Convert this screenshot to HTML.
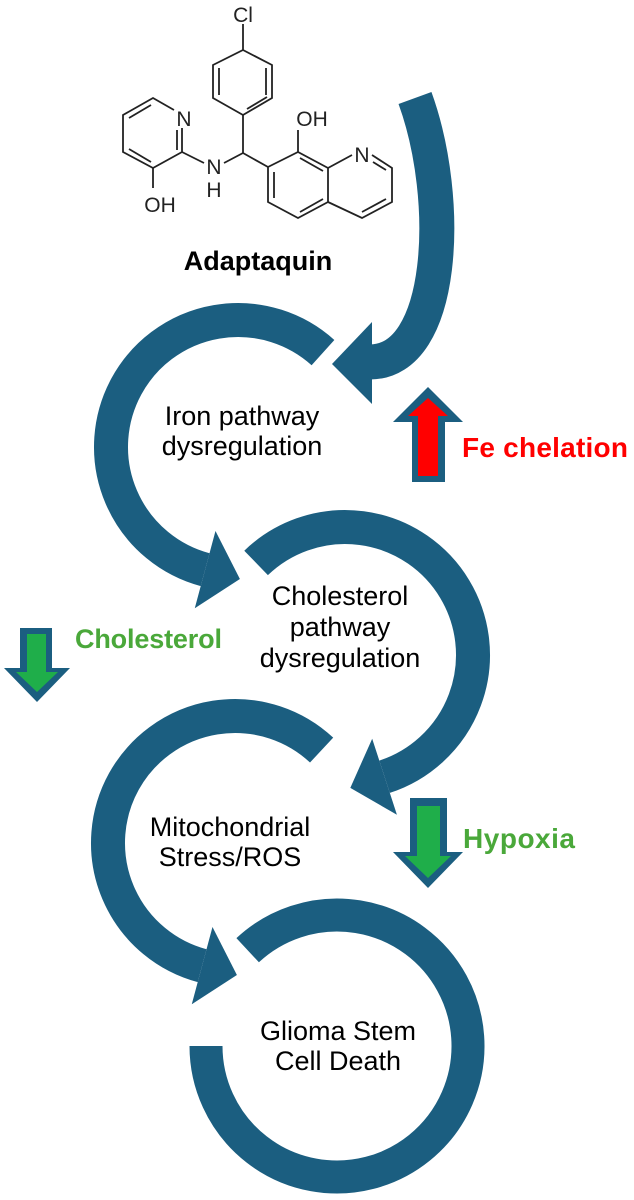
<!DOCTYPE html>
<html><head><meta charset="utf-8"><style>
html,body{margin:0;padding:0;background:#fff;}
svg{display:block;}
text{font-family:"Liberation Sans",Arial,sans-serif;}
</style></head><body>
<svg id="s" width="634" height="1200" viewBox="0 0 634 1200" xmlns="http://www.w3.org/2000/svg">
<g id="arcs"></g>
<!-- top arc -->
<path d="M415,98 C452,200 445,362 370,362" fill="none" stroke="#1b5e80" stroke-width="35"/>
<polygon points="332,364 372,322 372,404" fill="#1b5e80"/>
<!-- Fe up arrow -->
<polygon points="428,387 463,422 445,422 445,482 412,482 412,422 393,422" fill="#1b5e80"/>
<polygon points="428,398 448,416 438,416 438,476 418,476 418,416 408,416" fill="#ff0000"/>
<text x="462" y="457" font-size="28" font-weight="bold" fill="#ff0000" textLength="166">Fe chelation</text>
<!-- cholesterol down arrow -->
<polygon points="37,702 70,668 52,668 52,628 20,628 20,668 4,668" fill="#1b5e80"/>
<polygon points="37,692 58,672 46,672 46,634 27,634 27,672 16,672" fill="#1fae4a"/>
<text x="75" y="648" font-size="27" font-weight="bold" fill="#4aa83a" textLength="147">Cholesterol</text>
<!-- hypoxia down arrow -->
<polygon points="428,888 463,852 447,852 447,798 410,798 410,852 393,852" fill="#1b5e80"/>
<polygon points="428,878 451,856 440,856 440,806 417,806 417,856 405,856" fill="#1fae4a"/>
<text x="463" y="848" font-size="28" font-weight="bold" fill="#4aa83a" textLength="112">Hypoxia</text>
<!-- labels -->
<g font-size="27" fill="#000" text-anchor="middle">
<text x="242" y="425">Iron pathway</text>
<text x="242" y="455">dysregulation</text>
<text x="340" y="605">Cholesterol</text>
<text x="340" y="636">pathway</text>
<text x="340" y="667">dysregulation</text>
<text x="230" y="836">Mitochondrial</text>
<text x="230" y="866">Stress/ROS</text>
<text x="338" y="1040">Glioma Stem</text>
<text x="338" y="1070">Cell Death</text>
<text x="258" y="270" font-weight="bold" font-size="27">Adaptaquin</text>
</g>
<!-- molecule -->
<g stroke="#222" stroke-width="1.8" fill="none">
<line x1="243" y1="24" x2="243" y2="50"/>
<polygon points="243,50 272,65 272,98 243,115 213,98 213,65"/>
<line x1="219" y1="68" x2="219" y2="95"/><line x1="266" y1="68" x2="266" y2="95"/><line x1="247" y1="109" x2="267" y2="97"/>
<line x1="243" y1="115" x2="243" y2="153"/>
<line x1="243" y1="153" x2="224" y2="163"/>
<line x1="243" y1="153" x2="268" y2="167"/>
<polyline points="268,167 298,152 328,168 328,202 298,218 268,202 268,167"/>
<line x1="274" y1="172" x2="274" y2="198"/><line x1="300" y1="158" x2="323" y2="171"/><line x1="300" y1="212" x2="323" y2="199"/>
<line x1="298" y1="152" x2="298" y2="130"/>
<polyline points="328,168 352,155"/><polyline points="372,155 392,168 392,202 362,218 328,202"/>
<line x1="373" y1="162" x2="386" y2="170"/><line x1="386" y1="199" x2="362" y2="212"/>
<polyline points="174,110 153,98 123,115 123,152 153,168 182,152 182,128"/>
<line x1="129" y1="118" x2="151" y2="105"/><line x1="129" y1="149" x2="151" y2="162"/><line x1="177" y1="130" x2="177" y2="150"/>
<line x1="182" y1="152" x2="204" y2="163"/>
<line x1="153" y1="168" x2="153" y2="188"/>
</g>
<g font-size="21" fill="#222" text-anchor="middle">
<text x="243" y="22">Cl</text>
<text x="184" y="126">N</text>
<text x="214" y="174">N</text>
<text x="214" y="197">H</text>
<text x="312" y="126">OH</text>
<text x="362" y="162">N</text>
<text x="160" y="212">OH</text>
</g>
</svg>
<script>
var C="#1b5e80",g=document.getElementById('arcs'),NS="http://www.w3.org/2000/svg";
function rad(a){return a*Math.PI/180;}
function pt(cx,cy,r,a){return [cx+r*Math.cos(rad(a)),cy+r*Math.sin(rad(a))];}
function arc(cx,cy,r,a1,a2,w,head){
  var sweep=a2>a1?1:0, span=Math.abs(a2-a1), large=span>180?1:0;
  var p1=pt(cx,cy,r,a1),p2=pt(cx,cy,r,a2);
  var p=document.createElementNS(NS,'path');
  p.setAttribute('d','M'+p1+' A'+r+','+r+' 0 '+large+' '+sweep+' '+p2);
  p.setAttribute('fill','none');p.setAttribute('stroke',C);p.setAttribute('stroke-width',w);
  g.appendChild(p);
  if(head){
    var t=a2*Math.PI/180, d=sweep?[-Math.sin(t),Math.cos(t)]:[Math.sin(t),-Math.cos(t)];
    var n=[Math.cos(t),Math.sin(t)], L=36, H=40;
    var tip=[p2[0]+d[0]*L,p2[1]+d[1]*L];
    var w1=[p2[0]+n[0]*H,p2[1]+n[1]*H],w2=[p2[0]-n[0]*H,p2[1]-n[1]*H];
    var q=document.createElementNS(NS,'polygon');
    q.setAttribute('points',tip+' '+w1+' '+w2);q.setAttribute('fill',C);g.appendChild(q);
  }
}
arc(238,447,127,-48,-255,34,true);
arc(345,655,128,-134,72,34,true);
arc(235,843,127,-47,-255,34,true);
arc(337,1046,131,-133,180,33,false);
</script>
</body></html>
